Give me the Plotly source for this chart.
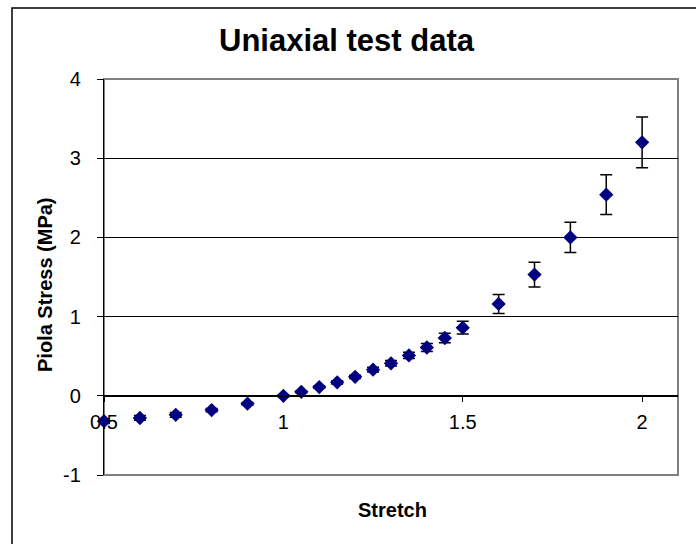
import plotly.graph_objects as go

stretch = [0.5, 0.6, 0.7, 0.8, 0.9, 1.0, 1.05, 1.1, 1.15, 1.2, 1.25, 1.3, 1.35,
           1.4, 1.45, 1.5, 1.6, 1.7, 1.8, 1.9, 2.0]
stress = [-0.32, -0.28, -0.24, -0.18, -0.10, 0.0, 0.05, 0.11, 0.17, 0.24, 0.33,
          0.41, 0.51, 0.61, 0.73, 0.86, 1.16, 1.53, 2.0, 2.54, 3.2]
stress_err = [0.03, 0.03, 0.03, 0.02, 0.015, 0.01, 0.01, 0.015, 0.02, 0.02, 0.03,
              0.035, 0.04, 0.05, 0.06, 0.08, 0.12, 0.155, 0.19, 0.25, 0.32]
x_ticks = [0.5, 1.0, 1.5, 2.0]
x_tick_labels = ["0.5", "1", "1.5", "2"]
y_ticks = [-1, 0, 1, 2, 3, 4]
y_tick_labels = ["-1", "0", "1", "2", "3", "4"]

W, H = 696, 544
L, R, T, B = 104, 678, 79, 475


def px_x(p):
    return (p - L) / (R - L)


def px_y(p):
    return (B - p) / (B - T)


FONT = "Arial, Liberation Sans, sans-serif"

fig = go.Figure()
fig.add_trace(go.Scatter(
    x=stretch, y=stress, mode="markers", cliponaxis=False,
    marker=dict(symbol="diamond", size=11, color="#000080",
                line=dict(width=0)),
    error_y=dict(type="data", array=stress_err, visible=True,
                 color="black", thickness=1.5, width=6),
    showlegend=False,
))

fig.update_layout(
    width=W, height=H,
    margin=dict(l=L, r=W - R, t=T, b=H - B, pad=0),
    paper_bgcolor="white", plot_bgcolor="white",
    font=dict(family=FONT, color="black", size=20),
    xaxis=dict(
        range=[0.5, 2.1], tickvals=x_ticks, ticktext=x_tick_labels,
        anchor="free", position=px_y(396), showline=True,
        linecolor="black", linewidth=1.2, ticks="outside", ticklen=5,
        tickcolor="black", showgrid=False, zeroline=False,
        ticklabelstandoff=3,
        tickfont=dict(size=20, family=FONT),
    ),
    yaxis=dict(
        range=[-1, 4], tickvals=y_ticks, ticktext=y_tick_labels,
        showline=True, linecolor="black",
        linewidth=1.2, ticks="outside", ticklen=6, tickcolor="black",
        showgrid=True, gridcolor="black", gridwidth=1, zeroline=False,
        ticklabelstandoff=12,
        tickfont=dict(size=20, family=FONT),
    ),
    shapes=[
        dict(type="rect", xref="paper", yref="paper", x0=0, x1=1, y0=0, y1=1,
             line=dict(color="#808080", width=2), layer="below"),
        dict(type="rect", xref="paper", yref="paper",
             x0=px_x(12), x1=px_x(720), y0=px_y(570), y1=px_y(8),
             line=dict(color="black", width=1.5), layer="below"),
    ],
    annotations=[
        dict(text="<b>Uniaxial test data</b>", xref="paper", yref="paper",
             x=px_x(347), y=px_y(40), xanchor="center", yanchor="middle",
             showarrow=False, font=dict(size=31, family=FONT)),
        dict(text="<b>Stretch</b>", xref="paper", yref="paper",
             x=px_x(392), y=px_y(510), xanchor="center", yanchor="middle",
             showarrow=False, font=dict(size=20, family=FONT)),
        dict(text="<b>Piola Stress (MPa)</b>", xref="paper", yref="paper",
             x=px_x(45), y=px_y(285), xanchor="center", yanchor="middle",
             showarrow=False, textangle=-90,
             font=dict(size=20, family=FONT)),
    ],
)

fig.write_html(
    "out.html",
    config={"displayModeBar": False},
    post_script="document.body.style.margin='0';"
                "document.body.style.overflow='hidden';",
)
